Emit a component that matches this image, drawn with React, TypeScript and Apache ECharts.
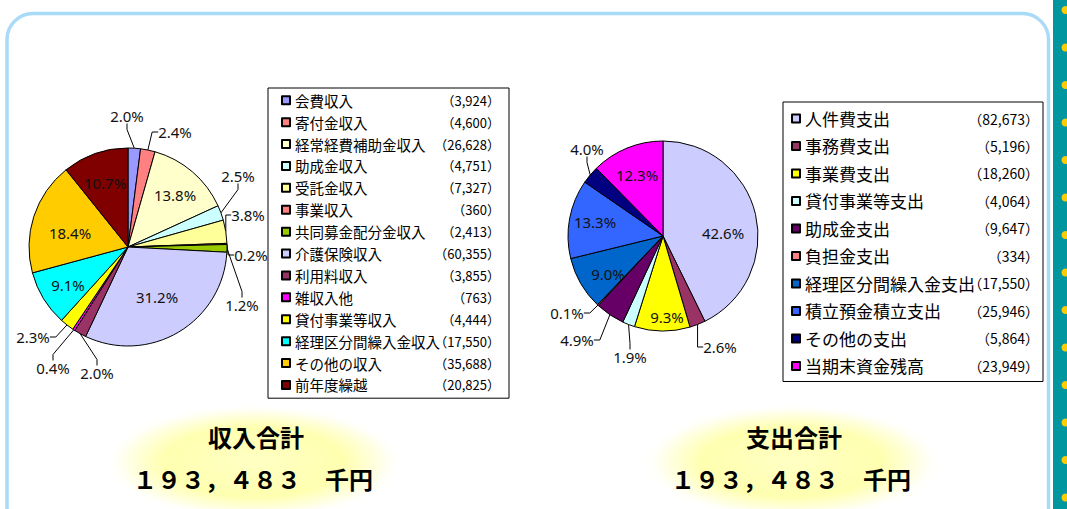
import React, { useEffect, useRef } from 'react';
import * as echarts from 'echarts';

// ---------- data ----------
const incomeNames = [
  '会費収入', '寄付金収入', '経常経費補助金収入', '助成金収入', '受託金収入', '事業収入',
  '共同募金配分金収入', '介護保険収入', '利用料収入', '雑収入他', '貸付事業等収入',
  '経理区分間繰入金収入', 'その他の収入', '前年度繰越',
];
const incomeValues = [3924, 4600, 26628, 4751, 7327, 360, 2413, 60355, 3855, 763, 4444, 17550, 35688, 20825];
const incomePctLabels = ['2.0%', '2.4%', '13.8%', '2.5%', '3.8%', '0.2%', '1.2%', '31.2%', '2.0%', '0.4%', '2.3%', '9.1%', '18.4%', '10.7%'];
const incomeColors = ['#9999FF', '#FF8080', '#FFFFCC', '#CCFFFF', '#FFFF99', '#FF8080', '#99CC00', '#CCCCFF', '#993366', '#FF00FF', '#FFFF00', '#00FFFF', '#FFCC00', '#800000'];

const expenseNames = [
  '人件費支出', '事務費支出', '事業費支出', '貸付事業等支出', '助成金支出', '負担金支出',
  '経理区分間繰入金支出', '積立預金積立支出', 'その他の支出', '当期末資金残高',
];
const expenseValues = [82673, 5196, 18260, 4064, 9647, 334, 17550, 25946, 5864, 23949];
const expensePctLabels = ['42.6%', '2.6%', '9.3%', '1.9%', '4.9%', '0.1%', '9.0%', '13.3%', '4.0%', '12.3%'];
const expenseColors = ['#CCCCFF', '#993366', '#FFFF00', '#CCFFFF', '#660066', '#FF8080', '#0066CC', '#3366FF', '#000080', '#FF00FF'];

const incomeTitle = '収入合計';
const expenseTitle = '支出合計';
const unit = '千円';

// ---------- layout (not data) ----------
const CJK = '"Noto Sans CJK JP", "Noto Sans", sans-serif';
const NUM = '"Liberation Sans Narrow", "Noto Sans", sans-serif';
const incomeCenter = [128, 247];
const incomeRadius = 99;
const expenseCenter = [663, 236];
const expenseRadius = 95;
// label anchor offsets relative to each pie's centre
const incomeLabelOffsets = [[-1, -131], [47, -115], [47, -52], [110, -71], [120, -32], [123, 8], [114, 58], [29, 50], [-31, 126], [-75, 121], [-95, 90], [-60, 38], [-58, -14], [-23, -64]];
const incomeInside = [2, 7, 11, 12, 13];
const expenseLabelOffsets = [[60, -3], [57, 111], [4, 81], [-33, 121], [-86, 104], [-96, 77], [-55, 38], [-68, -14], [-76, -87], [-26, -61]];
const expenseInside = [0, 2, 6, 7, 9];

const fmt = (v: number) => v.toLocaleString('en-US');
const toFullWidth = (s: string) => s.replace(/[0-9,]/g, (c) => String.fromCharCode(c.charCodeAt(0) + 0xfee0));
const sum = (a: number[]) => a.reduce((x, y) => x + y, 0);

function pieSeries(names: string[], values: number[], colors: string[], labels: string[], center: number[], radius: number, offsets: number[][], inside: number[]) {
  return {
    type: 'pie',
    center,
    radius,
    startAngle: 90,
    clockwise: true,
    avoidLabelOverlap: false,
    itemStyle: { borderColor: '#000', borderWidth: 1 },
    label: {
      show: true,
      formatter: (p: any) => labels[p.dataIndex],
      fontFamily: NUM,
      fontSize: 15,
      color: '#111',
    },
    labelLine: { show: true, length: 6, length2: 6, lineStyle: { color: '#000', width: 1 } },
    labelLayout: (p: any) => {
      const o = offsets[p.dataIndex];
      return { x: center[0] + o[0], y: center[1] + o[1], align: 'center', verticalAlign: 'middle' };
    },
    emphasis: { disabled: true },
    data: names.map((n, i) => ({
      name: n,
      value: values[i],
      itemStyle: { color: colors[i] },
      label: { position: inside.includes(i) ? 'inside' : 'outside' },
      labelLine: { show: !inside.includes(i) },
    })),
  };
}

function legendOpt(names: string[], values: number[], left: number, top: number, padding: number[], gap: number, nameSize: number, valSize: number, nameW: number, valW: number, lh: number) {
  return {
    data: names,
    orient: 'vertical',
    left,
    top,
    padding,
    itemGap: gap,
    itemWidth: 8,
    itemHeight: 8,
    icon: 'rect',
    selectedMode: false,
    borderColor: '#000',
    borderWidth: 1,
    backgroundColor: '#fff',
    formatter: (name: string) => `{n|${name}}{v|（${fmt(values[names.indexOf(name)])}）}`,
    textStyle: {
      rich: {
        n: { fontFamily: CJK, fontSize: nameSize, width: nameW, lineHeight: lh, color: '#000' },
        v: { fontFamily: CJK, fontSize: valSize, width: valW, align: 'right', lineHeight: lh, color: '#000' },
      },
    },
  };
}

function totalGroup(cx: number, title: string, total: number) {
  return [
    {
      type: 'circle',
      x: cx,
      y: 462,
      scaleX: 150 / 58,
      shape: { cx: 0, cy: 0, r: 58 },
      style: {
        fill: new echarts.graphic.RadialGradient(0.5, 0.5, 0.5, [
          { offset: 0, color: '#ffffc4' },
          { offset: 0.6, color: '#ffffb0' },
          { offset: 0.85, color: '#ffffe8' },
          { offset: 1, color: 'rgba(255,255,255,0)' },
        ]),
      },
      silent: true,
      z: 1,
    },
    {
      type: 'text',
      x: cx + 2,
      y: 436,
      style: { text: title, font: `bold 24px ${CJK}`, fill: '#000', textAlign: 'center', textVerticalAlign: 'middle', align: 'center', verticalAlign: 'middle' },
      z: 2,
    },
    {
      type: 'text',
      x: cx - 1,
      y: 478,
      style: { text: `${toFullWidth(fmt(total))}　${unit}`, font: `bold 24px ${CJK}`, fill: '#000', textAlign: 'center', textVerticalAlign: 'middle', align: 'center', verticalAlign: 'middle' },
      z: 2,
    },
  ];
}

export default function App() {
  const ref = useRef<HTMLDivElement>(null);
  useEffect(() => {
    if (!ref.current) return;
    const chart = echarts.init(ref.current, undefined, { renderer: 'svg' });
    const dots = Array.from({ length: 14 }, (_, i) => ({
      type: 'circle',
      shape: { cx: 1065.5, cy: 10 + i * 37.5, r: 4 },
      style: { fill: '#ffcc00' },
      silent: true,
      z: 2,
    }));
    chart.setOption({
      animation: false,
      backgroundColor: '#fff',
      graphic: [
        { type: 'rect', shape: { x: 7, y: 13.5, width: 1041.5, height: 560, r: 26 }, style: { fill: 'none', stroke: '#a9dbf8', lineWidth: 3.5 }, silent: true, z: 0 },
        { type: 'rect', shape: { x: 1053, y: 0, width: 14, height: 509 }, style: { fill: '#0096a0' }, silent: true, z: 1 },
        ...dots,
        ...totalGroup(254, incomeTitle, sum(incomeValues)),
        ...totalGroup(792, expenseTitle, sum(expenseValues)),
      ],
      legend: [
        legendOpt(incomeNames, incomeValues, 268, 88, [5, 9, 6, 13], 7.4, 14.5, 13, 146, 59, 16),
        legendOpt(expenseNames, expenseValues, 783, 102, [8, 4, 7, 8], 10.5, 17, 14, 170, 64, 18),
      ],
      series: [
        pieSeries(incomeNames, incomeValues, incomeColors, incomePctLabels, incomeCenter, incomeRadius, incomeLabelOffsets, incomeInside),
        pieSeries(expenseNames, expenseValues, expenseColors, expensePctLabels, expenseCenter, expenseRadius, expenseLabelOffsets, expenseInside),
      ],
    });
    return () => chart.dispose();
  }, []);
  return <div ref={ref} style={{ position: 'fixed', left: 0, top: 0, width: 1067, height: 509, background: '#fff' }} />;
}
